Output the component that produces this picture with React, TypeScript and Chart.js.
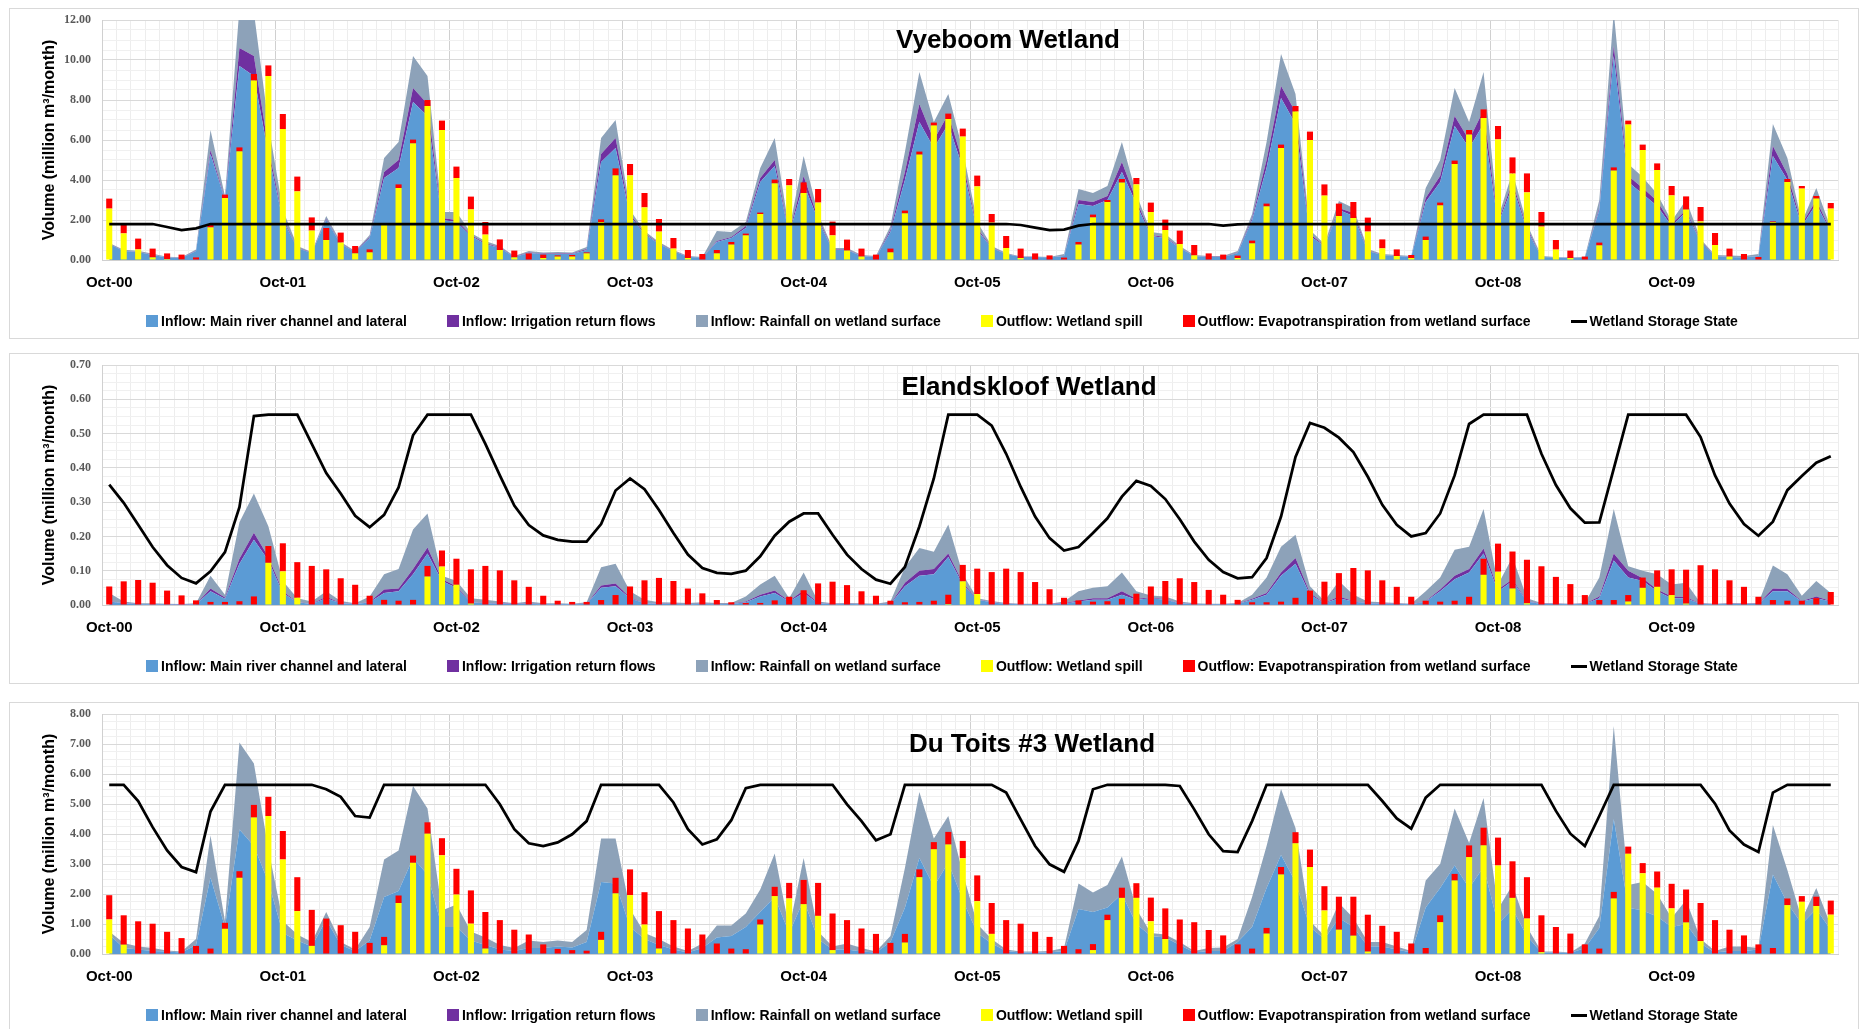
import React, { useEffect, useRef } from 'react';
import { Chart, registerables } from 'chart.js';

Chart.register(...registerables);

// ---------- categories / tick labels ----------
const MONTHS = ['Oct', 'Nov', 'Dec', 'Jan', 'Feb', 'Mar', 'Apr', 'May', 'Jun', 'Jul', 'Aug', 'Sep'];
const HYDRO_YEARS = 10; // Oct-00 .. Sep-10
const categories: string[] = [];
for (let y = 0; y < HYDRO_YEARS; y++) {
  MONTHS.forEach((m, k) => {
    const yr = k < 3 ? y : y + 1;
    categories.push(`${m}-${String(yr).padStart(2, '0')}`);
  });
}

const SERIES_LABELS = [
  'Inflow: Main river channel and lateral',
  'Inflow: Irrigation return flows',
  'Inflow: Rainfall on wetland surface',
  'Outflow: Wetland spill',
  'Outflow: Evapotranspiration from wetland surface',
  'Wetland Storage State',
];
const Y_TITLE = 'Volume (million m³/month)';

// ---------- Vyeboom Wetland ----------
const vyMain = [
  0.8, 0.45, 0.4, 0.25, 0.12, 0.1, 0.45, 5.3, 3.0, 9.7, 9.2, 5.3,
  2.0, 0.6, 0.35, 2.0, 0.8, 0.4, 1.1, 4.1, 4.6, 7.9, 7.2, 2.0,
  1.9, 1.2, 0.8, 0.6, 0.15, 0.35, 0.3, 0.3, 0.3, 0.5, 4.9, 5.6,
  2.2, 1.3, 0.8, 0.45, 0.15, 0.12, 0.9, 1.1, 1.6, 3.9, 4.7, 1.3,
  3.8, 2.0, 0.5, 0.5, 0.2, 0.15, 1.4, 4.0, 6.9, 5.6, 6.8, 4.6,
  1.5, 0.6, 0.3, 0.15, 0.15, 0.12, 0.2, 2.8, 2.7, 3.0, 4.4, 2.8,
  1.2, 1.1, 0.6, 0.2, 0.15, 0.15, 0.35, 2.0, 4.6, 8.1, 6.8, 1.2,
  0.7, 2.5, 2.2, 0.45, 0.25, 0.2, 0.15, 2.9, 3.9, 6.7, 5.6, 6.8,
  1.8, 3.7, 1.5, 0.15, 0.12, 0.1, 0.12, 2.5, 10.2, 3.9, 3.3, 2.7,
  1.7, 2.4, 0.9, 0.2, 0.15, 0.12, 0.2, 5.2, 4.0, 1.7, 2.8, 1.4,
];
const vyIrrigation = [
  0.02, 0.01, 0.01, 0.01, 0.01, 0.01, 0.02, 0.2, 0.05, 0.9, 1.0, 0.3,
  0.1, 0.02, 0.02, 0.05, 0.02, 0.02, 0.05, 0.3, 0.4, 0.7, 0.6, 0.1,
  0.1, 0.05, 0.05, 0.02, 0.02, 0.02, 0.02, 0.02, 0.02, 0.05, 0.4, 0.5,
  0.1, 0.05, 0.02, 0.02, 0.01, 0.01, 0.05, 0.05, 0.1, 0.2, 0.3, 0.05,
  0.4, 0.1, 0.02, 0.02, 0.01, 0.01, 0.1, 0.4, 0.9, 0.4, 0.5, 0.3,
  0.1, 0.02, 0.01, 0.01, 0.01, 0.01, 0.01, 0.2, 0.2, 0.2, 0.5, 0.2,
  0.05, 0.05, 0.02, 0.01, 0.01, 0.01, 0.02, 0.1, 0.4, 0.6, 0.6, 0.1,
  0.02, 0.1, 0.15, 0.02, 0.01, 0.01, 0.01, 0.2, 0.3, 0.5, 0.4, 0.7,
  0.1, 0.2, 0.1, 0.01, 0.01, 0.01, 0.01, 0.1, 0.5, 0.3, 0.3, 0.25,
  0.1, 0.1, 0.05, 0.01, 0.01, 0.01, 0.01, 0.5, 0.3, 0.1, 0.2, 0.05,
];
const vyRainfall = [
  0.03, 0.05, 0.05, 0.05, 0.03, 0.03, 0.05, 1.0, 0.15, 2.0, 2.2, 1.2,
  0.4, 0.08, 0.03, 0.15, 0.08, 0.03, 0.1, 0.7, 0.9, 1.6, 1.4, 0.3,
  0.4, 0.1, 0.1, 0.08, 0.03, 0.08, 0.06, 0.08, 0.06, 0.1, 0.8, 0.9,
  0.2, 0.1, 0.08, 0.03, 0.04, 0.02, 0.5, 0.25, 0.2, 0.5, 1.1, 0.15,
  1.0, 0.2, 0.08, 0.08, 0.04, 0.04, 0.2, 1.0, 1.6, 0.9, 1.0, 0.6,
  0.3, 0.08, 0.04, 0.02, 0.02, 0.02, 0.09, 0.55, 0.45, 0.5, 1.0, 0.3,
  0.15, 0.15, 0.08, 0.04, 0.04, 0.04, 0.08, 0.2, 0.9, 1.6, 0.9, 0.2,
  0.08, 0.35, 0.25, 0.08, 0.04, 0.04, 0.04, 0.5, 0.8, 1.4, 0.9, 1.9,
  0.2, 0.5, 0.2, 0.04, 0.02, 0.02, 0.03, 0.4, 1.7, 0.6, 0.55, 0.35,
  0.15, 0.5, 0.1, 0.04, 0.06, 0.07, 0.09, 1.1, 0.8, 0.1, 0.6, 0.15,
];
const vySpill = [
  2.57, 1.33, 0.53, 0.13, 0.05, 0.03, 0, 1.63, 3.1, 5.43, 8.97, 9.2,
  6.55, 3.43, 1.47, 1.0, 0.87, 0.33, 0.38, 1.75, 3.6, 5.83, 7.7, 6.5,
  4.1, 2.53, 1.27, 0.5, 0.13, 0, 0.1, 0.17, 0.17, 0.33, 1.9, 4.23,
  4.23, 2.63, 1.42, 0.57, 0.1, 0, 0.33, 0.77, 1.23, 2.3, 3.83, 3.73,
  3.35, 2.87, 1.23, 0.47, 0.17, 0, 0.38, 2.33, 5.27, 6.72, 7.05, 6.17,
  3.68, 1.87, 0.6, 0.1, 0, 0, 0, 0.77, 2.13, 2.9, 3.87, 3.78,
  2.4, 1.5, 0.8, 0.23, 0, 0, 0.1, 0.83, 2.68, 5.6, 7.42, 6.0,
  3.22, 2.2, 2.1, 1.42, 0.58, 0.2, 0.1, 1.0, 2.73, 4.8, 6.27, 7.1,
  6.03, 4.32, 3.38, 1.67, 0.52, 0.1, 0, 0.73, 4.47, 6.77, 5.5, 4.5,
  3.23, 2.52, 1.93, 0.75, 0.17, 0, 0, 1.9, 3.9, 3.57, 3.07, 2.57,
];
const vyEvap = [
  0.5, 0.44, 0.54, 0.44, 0.28, 0.24, 0.13, 0.14, 0.17, 0.2, 0.33, 0.53,
  0.75, 0.74, 0.66, 0.6, 0.5, 0.37, 0.15, 0.08, 0.18, 0.19, 0.3, 0.47,
  0.57, 0.64, 0.63, 0.53, 0.34, 0.33, 0.17, 0.06, 0.08, 0.05, 0.13, 0.35,
  0.57, 0.72, 0.63, 0.53, 0.4, 0.3, 0.17, 0.13, 0.09, 0.07, 0.19, 0.32,
  0.53, 0.68, 0.69, 0.55, 0.4, 0.27, 0.19, 0.14, 0.15, 0.15, 0.27, 0.4,
  0.54, 0.43, 0.6, 0.47, 0.33, 0.23, 0.12, 0.13, 0.14, 0.1, 0.18, 0.32,
  0.47, 0.52, 0.67, 0.52, 0.33, 0.27, 0.12, 0.14, 0.14, 0.17, 0.28, 0.42,
  0.56, 0.62, 0.8, 0.7, 0.45, 0.33, 0.15, 0.17, 0.14, 0.17, 0.23, 0.43,
  0.67, 0.81, 0.95, 0.73, 0.48, 0.37, 0.17, 0.14, 0.16, 0.2, 0.27, 0.33,
  0.47, 0.66, 0.72, 0.6, 0.4, 0.3, 0.15, 0.03, 0.15, 0.13, 0.13, 0.28,
];
const vyStorage = [
  1.8, 1.8, 1.8, 1.8, 1.65, 1.5, 1.58, 1.8, 1.8, 1.8, 1.8, 1.8,
  1.8, 1.8, 1.8, 1.8, 1.8, 1.8, 1.8, 1.8, 1.8, 1.8, 1.8, 1.8,
  1.8, 1.8, 1.8, 1.8, 1.8, 1.8, 1.8, 1.8, 1.8, 1.8, 1.8, 1.8,
  1.8, 1.8, 1.8, 1.8, 1.8, 1.8, 1.8, 1.8, 1.8, 1.8, 1.8, 1.8,
  1.8, 1.8, 1.8, 1.8, 1.8, 1.8, 1.8, 1.8, 1.8, 1.8, 1.8, 1.8,
  1.8, 1.8, 1.8, 1.75, 1.62, 1.5, 1.52, 1.72, 1.8, 1.8, 1.8, 1.8,
  1.8, 1.8, 1.8, 1.8, 1.8, 1.72, 1.78, 1.8, 1.8, 1.8, 1.8, 1.8,
  1.8, 1.8, 1.8, 1.8, 1.8, 1.8, 1.8, 1.8, 1.8, 1.8, 1.8, 1.8,
  1.8, 1.8, 1.8, 1.8, 1.8, 1.8, 1.8, 1.8, 1.8, 1.8, 1.8, 1.8,
  1.8, 1.8, 1.8, 1.8, 1.8, 1.8, 1.8, 1.8, 1.8, 1.8, 1.8, 1.8,
];

// ---------- Elandskloof Wetland ----------
const elMain = [
  0.01, 0.005, 0.002, 0.002, 0.002, 0.001, 0.002, 0.04, 0.018, 0.12, 0.19, 0.13,
  0.035, 0.008, 0.003, 0.02, 0.005, 0.002, 0.008, 0.035, 0.04, 0.09, 0.15, 0.07,
  0.05, 0.008, 0.005, 0.004, 0.003, 0.003, 0.002, 0.002, 0.002, 0.003, 0.05, 0.055,
  0.02, 0.005, 0.003, 0.003, 0.002, 0.003, 0.002, 0.003, 0.008, 0.025, 0.035, 0.01,
  0.035, 0.005, 0.002, 0.003, 0.002, 0.002, 0.003, 0.055, 0.085, 0.09, 0.14, 0.06,
  0.015, 0.008, 0.003, 0.002, 0.002, 0.002, 0.004, 0.01, 0.015, 0.015, 0.03, 0.015,
  0.02, 0.015, 0.005, 0.002, 0.002, 0.002, 0.003, 0.015, 0.03, 0.085, 0.12, 0.03,
  0.005, 0.02, 0.01, 0.005, 0.004, 0.003, 0.002, 0.01, 0.04, 0.075, 0.095, 0.15,
  0.04, 0.07, 0.01, 0.003, 0.003, 0.002, 0.003, 0.02, 0.13, 0.08, 0.07, 0.04,
  0.02, 0.02, 0.003, 0.002, 0.003, 0.003, 0.003, 0.04, 0.04, 0.01, 0.02, 0.01,
];
const elIrrigation = [
  0.001, 0.001, 0.001, 0.001, 0.001, 0.001, 0.001, 0.008, 0.004, 0.015, 0.021, 0.01,
  0.005, 0.001, 0.001, 0.004, 0.001, 0.001, 0.001, 0.01, 0.008, 0.015, 0.018, 0.005,
  0.005, 0.001, 0.001, 0.001, 0.001, 0.001, 0.001, 0.001, 0.001, 0.001, 0.007, 0.008,
  0.002, 0.001, 0.001, 0.001, 0.001, 0.001, 0.001, 0.001, 0.002, 0.005, 0.007, 0.002,
  0.008, 0.001, 0.001, 0.001, 0.001, 0.001, 0.001, 0.01, 0.015, 0.015, 0.01, 0.005,
  0.002, 0.001, 0.001, 0.001, 0.001, 0.001, 0.001, 0.003, 0.005, 0.005, 0.01, 0.003,
  0.002, 0.002, 0.001, 0.001, 0.001, 0.001, 0.001, 0.003, 0.005, 0.01, 0.017, 0.005,
  0.001, 0.005, 0.002, 0.001, 0.001, 0.001, 0.001, 0.002, 0.005, 0.01, 0.01, 0.015,
  0.005, 0.005, 0.002, 0.001, 0.001, 0.001, 0.001, 0.005, 0.02, 0.02, 0.008, 0.005,
  0.005, 0.003, 0.001, 0.001, 0.001, 0.001, 0.001, 0.008, 0.007, 0.002, 0.005, 0.002,
];
const elRainfall = [
  0.024, 0.004, 0.002, 0.002, 0.001, 0.001, 0.002, 0.037, 0.008, 0.106, 0.114, 0.09,
  0.03, 0.011, 0.006, 0.016, 0.006, 0.002, 0.016, 0.045, 0.057, 0.115, 0.099, 0.01,
  0.015, 0.011, 0.009, 0.005, 0.001, 0.006, 0.002, 0.002, 0.001, 0.004, 0.053, 0.057,
  0.018, 0.009, 0.004, 0.003, 0.003, 0.004, 0.003, 0.002, 0.015, 0.03, 0.043, 0.008,
  0.052, 0.004, 0.002, 0.002, 0.002, 0.001, 0.006, 0.045, 0.066, 0.05, 0.085, 0.025,
  0.003, 0.003, 0.002, 0.001, 0.001, 0.001, 0.005, 0.027, 0.03, 0.035, 0.055, 0.022,
  0.006, 0.008, 0.004, 0.002, 0.001, 0.001, 0.002, 0.012, 0.045, 0.075, 0.068, 0.02,
  0.006, 0.045, 0.018, 0.004, 0.003, 0.002, 0.001, 0.028, 0.035, 0.076, 0.065, 0.115,
  0.015, 0.065, 0.008, 0.002, 0.001, 0.001, 0.002, 0.055, 0.13, 0.013, 0.022, 0.045,
  0.035, 0.042, 0.002, 0.001, 0.002, 0.001, 0.002, 0.067, 0.043, 0.015, 0.045, 0.023,
];
const elSpill = [
  0, 0, 0, 0, 0, 0, 0, 0, 0, 0, 0, 0.123,
  0.098, 0.021, 0, 0, 0, 0, 0, 0, 0, 0, 0.083, 0.112,
  0.059, 0.004, 0, 0, 0, 0, 0, 0, 0, 0, 0, 0,
  0, 0, 0, 0, 0, 0, 0, 0, 0, 0, 0, 0,
  0, 0, 0, 0, 0, 0, 0, 0, 0, 0, 0.003, 0.069,
  0.032, 0, 0, 0, 0, 0, 0, 0, 0, 0, 0, 0,
  0, 0, 0, 0, 0, 0, 0, 0, 0, 0, 0, 0,
  0, 0, 0, 0, 0, 0, 0, 0, 0, 0, 0, 0.088,
  0.097, 0.048, 0.005, 0, 0, 0, 0, 0, 0, 0.01, 0.05, 0.053,
  0.029, 0.004, 0, 0, 0, 0, 0, 0, 0, 0, 0, 0,
];
const elEvap = [
  0.054, 0.069, 0.073, 0.065, 0.042, 0.028, 0.0135, 0.009, 0.009, 0.011, 0.025, 0.049,
  0.082, 0.104, 0.114, 0.104, 0.078, 0.059, 0.027, 0.015, 0.0125, 0.015, 0.031, 0.047,
  0.076, 0.1, 0.114, 0.101, 0.072, 0.053, 0.027, 0.0125, 0.009, 0.009, 0.0145, 0.029,
  0.054, 0.072, 0.079, 0.07, 0.048, 0.034, 0.0145, 0.008, 0.006, 0.006, 0.0135, 0.024,
  0.043, 0.063, 0.068, 0.058, 0.04, 0.027, 0.0125, 0.008, 0.009, 0.0125, 0.027, 0.048,
  0.074, 0.096, 0.106, 0.096, 0.067, 0.046, 0.021, 0.0135, 0.0097, 0.011, 0.018, 0.033,
  0.054, 0.07, 0.078, 0.067, 0.044, 0.03, 0.015, 0.008, 0.008, 0.0097, 0.021, 0.042,
  0.068, 0.093, 0.108, 0.101, 0.072, 0.053, 0.024, 0.0125, 0.0097, 0.0125, 0.024, 0.047,
  0.082, 0.108, 0.127, 0.113, 0.082, 0.061, 0.029, 0.0145, 0.0145, 0.019, 0.03, 0.048,
  0.075, 0.099, 0.116, 0.104, 0.072, 0.053, 0.024, 0.0145, 0.0125, 0.0125, 0.02, 0.038,
];
const elStorage = [
  0.351, 0.298, 0.234, 0.169, 0.116, 0.079, 0.063, 0.098, 0.154, 0.285, 0.551, 0.555,
  0.555, 0.555, 0.47, 0.385, 0.325, 0.26, 0.227, 0.263, 0.343, 0.495, 0.555, 0.555,
  0.555, 0.555, 0.47, 0.378, 0.29, 0.233, 0.203, 0.19, 0.185, 0.185, 0.236, 0.334,
  0.369, 0.338, 0.277, 0.21, 0.147, 0.108, 0.094, 0.091, 0.1, 0.142, 0.202, 0.243,
  0.267, 0.267, 0.205, 0.147, 0.105, 0.074, 0.062, 0.111, 0.229, 0.369, 0.555, 0.555,
  0.555, 0.523, 0.441, 0.345, 0.258, 0.195, 0.159, 0.169, 0.21, 0.253, 0.316, 0.362,
  0.347, 0.309, 0.25, 0.185, 0.132, 0.096, 0.078, 0.081, 0.137, 0.258, 0.432, 0.531,
  0.517, 0.488, 0.446, 0.374, 0.292, 0.234, 0.2, 0.21, 0.267, 0.378, 0.528, 0.555,
  0.555, 0.555, 0.555, 0.441, 0.35, 0.282, 0.24, 0.241, 0.398, 0.555, 0.555, 0.555,
  0.555, 0.555, 0.49, 0.378, 0.296, 0.236, 0.202, 0.243, 0.335, 0.376, 0.415, 0.434,
];

// ---------- Du Toits #3 Wetland ----------
const dtMain = [
  0.65, 0.2, 0.15, 0.1, 0.08, 0.05, 0.3, 2.55, 0.9, 4.15, 3.6, 2.4,
  0.7, 0.45, 0.25, 1.15, 0.3, 0.1, 0.45, 1.9, 2.1, 3.2, 2.65, 0.9,
  0.9, 0.45, 0.3, 0.15, 0.1, 0.2, 0.2, 0.25, 0.22, 0.4, 2.4, 2.35,
  0.9, 0.5, 0.3, 0.15, 0.05, 0.2, 0.55, 0.6, 0.9, 1.4, 1.9, 0.7,
  1.8, 0.5, 0.15, 0.15, 0.08, 0.05, 0.4, 1.54, 3.2, 2.25, 3.05, 1.8,
  0.7, 0.35, 0.1, 0.05, 0.05, 0.05, 0.1, 1.5, 1.4, 1.55, 2.0, 1.0,
  0.6, 0.55, 0.3, 0.05, 0.1, 0.1, 0.4, 0.9, 2.2, 3.3, 2.4, 0.9,
  0.5, 1.2, 0.9, 0.25, 0.25, 0.15, 0.05, 1.55, 2.2, 2.95, 2.2, 2.9,
  1.0, 1.5, 0.6, 0.05, 0.05, 0.03, 0.2, 0.87, 4.5, 1.54, 1.45, 1.25,
  0.9, 1.0, 0.35, 0.05, 0.1, 0.1, 0.15, 2.65, 1.7, 1.0, 1.5, 0.8,
];
const dtIrrigation = [
  0, 0, 0, 0, 0, 0, 0, 0, 0, 0, 0, 0,
  0, 0, 0, 0, 0, 0, 0, 0, 0, 0, 0, 0,
  0, 0, 0, 0, 0, 0, 0, 0, 0, 0, 0, 0,
  0, 0, 0, 0, 0, 0, 0, 0, 0, 0, 0, 0,
  0, 0, 0, 0, 0, 0, 0, 0, 0, 0, 0, 0,
  0, 0, 0, 0, 0, 0, 0, 0, 0, 0, 0, 0,
  0, 0, 0, 0, 0, 0, 0, 0, 0, 0, 0, 0,
  0, 0, 0, 0, 0, 0, 0, 0, 0, 0, 0, 0,
  0, 0, 0, 0, 0, 0, 0, 0, 0, 0, 0, 0,
  0, 0, 0, 0, 0, 0, 0, 0, 0, 0, 0, 0,
];
const dtRainfall = [
  0.1, 0.17, 0.1, 0.1, 0.04, 0.03, 0.2, 1.4, 0.2, 2.9, 2.75, 1.1,
  0.4, 0.2, 0.15, 0.25, 0.1, 0.05, 0.45, 1.25, 1.35, 2.4, 2.2, 0.55,
  0.75, 0.3, 0.25, 0.15, 0.1, 0.25, 0.2, 0.2, 0.18, 0.4, 1.45, 1.5,
  0.6, 0.2, 0.2, 0.1, 0.05, 0.15, 0.4, 0.35, 0.45, 0.75, 1.45, 0.15,
  1.4, 0.25, 0.1, 0.2, 0.12, 0.03, 0.2, 1.33, 2.2, 1.6, 1.55, 0.9,
  0.3, 0.15, 0.05, 0.03, 0.03, 0.05, 0.1, 0.85, 0.65, 0.75, 1.25, 0.5,
  0.1, 0.1, 0.1, 0.05, 0.1, 0.12, 0.1, 1.0, 1.4, 2.2, 1.8, 0.2,
  0.1, 0.5, 0.3, 0.15, 0.15, 0.1, 0.05, 0.9, 0.8, 1.9, 1.5, 2.3,
  0.5, 0.8, 0.3, 0.03, 0.03, 0.02, 0.15, 0.4, 3.1, 0.76, 0.95, 0.75,
  0.3, 0.8, 0.15, 0.05, 0.15, 0.15, 0.05, 1.65, 1.1, 0.15, 0.7, 0.15,
];
const dtSpill = [
  1.15, 0.31, 0, 0, 0, 0, 0, 0, 0.84, 2.54, 4.55, 4.6,
  3.15, 1.43, 0.27, 0, 0, 0, 0, 0.29, 1.7, 3.04, 4.01, 3.29,
  1.98, 1.01, 0.18, 0, 0, 0, 0, 0, 0, 0, 0.47, 2.02,
  1.96, 0.98, 0.18, 0, 0, 0, 0, 0, 0, 0.98, 1.93, 1.85,
  1.66, 1.27, 0.13, 0, 0, 0, 0, 0.38, 2.56, 3.49, 3.65, 3.19,
  1.76, 0.67, 0, 0, 0, 0, 0, 0, 0.13, 1.13, 1.87, 1.87,
  1.09, 0.5, 0, 0, 0, 0, 0, 0, 0.68, 2.65, 3.69, 2.9,
  1.45, 0.81, 0.61, 0.08, 0, 0, 0, 0, 1.06, 2.45, 3.23, 3.62,
  2.95, 1.87, 1.18, 0.06, 0, 0, 0, 0, 1.85, 3.34, 2.69, 2.21,
  1.52, 1.05, 0.43, 0, 0, 0, 0, 0, 1.63, 1.74, 1.6, 1.31,
];
const dtEvap = [
  0.81, 0.98, 1.09, 1.01, 0.74, 0.53, 0.27, 0.18, 0.2, 0.22, 0.42, 0.64,
  0.95, 1.13, 1.2, 1.18, 0.96, 0.74, 0.37, 0.28, 0.25, 0.24, 0.38, 0.57,
  0.86, 1.11, 1.22, 1.13, 0.81, 0.65, 0.32, 0.17, 0.13, 0.11, 0.27, 0.52,
  0.86, 1.08, 1.25, 1.13, 0.85, 0.65, 0.35, 0.18, 0.16, 0.17, 0.31, 0.52,
  0.81, 1.1, 1.22, 1.13, 0.85, 0.67, 0.37, 0.29, 0.26, 0.24, 0.42, 0.58,
  0.86, 1.03, 1.13, 1.01, 0.74, 0.57, 0.27, 0.16, 0.2, 0.18, 0.34, 0.49,
  0.79, 1.02, 1.15, 1.06, 0.8, 0.62, 0.32, 0.18, 0.19, 0.25, 0.37, 0.58,
  0.81, 1.1, 1.3, 1.23, 0.94, 0.74, 0.35, 0.2, 0.23, 0.22, 0.39, 0.59,
  0.93, 1.22, 1.38, 1.23, 0.9, 0.68, 0.32, 0.18, 0.22, 0.24, 0.34, 0.54,
  0.82, 1.1, 1.27, 1.13, 0.81, 0.62, 0.32, 0.2, 0.22, 0.19, 0.31, 0.47,
];
const dtStorage = [
  5.64, 5.64, 5.1, 4.23, 3.45, 2.9, 2.73, 4.75, 5.64, 5.64, 5.64, 5.64,
  5.64, 5.64, 5.64, 5.49, 5.24, 4.6, 4.55, 5.64, 5.64, 5.64, 5.64, 5.64,
  5.64, 5.64, 5.64, 4.99, 4.16, 3.69, 3.6, 3.72, 3.99, 4.43, 5.64, 5.64,
  5.64, 5.64, 5.64, 5.05, 4.16, 3.65, 3.82, 4.46, 5.53, 5.64, 5.64, 5.64,
  5.64, 5.64, 5.64, 4.99, 4.43, 3.79, 3.99, 5.64, 5.64, 5.64, 5.64, 5.64,
  5.64, 5.64, 5.38, 4.49, 3.6, 2.99, 2.74, 3.77, 5.49, 5.64, 5.64, 5.64,
  5.64, 5.64, 5.6, 4.82, 3.99, 3.43, 3.4, 4.43, 5.64, 5.64, 5.64, 5.64,
  5.64, 5.64, 5.64, 5.64, 5.1, 4.52, 4.18, 5.21, 5.64, 5.64, 5.64, 5.64,
  5.64, 5.64, 5.64, 5.64, 4.77, 4.01, 3.6, 4.6, 5.64, 5.64, 5.64, 5.64,
  5.64, 5.64, 5.64, 5.01, 4.12, 3.65, 3.4, 5.38, 5.64, 5.64, 5.64, 5.64,
];

// ---------- styling ----------
const BLUE = '#5B9BD5';
const PURPLE = '#7030A0';
const GRAY = '#8DA2B9';
const YELLOW = '#FFFF00';
const RED = '#FF0000';
const SERIES_COLORS = [BLUE, PURPLE, GRAY, YELLOW, RED, '#000000'];
const SANS = "'Liberation Sans', Arial, sans-serif";
const SERIF = "'Liberation Serif', 'Times New Roman', serif";
const CANVAS_W = 1848;
const CANVAS_H = 329;

const PANELS = [
  {
    title: 'Vyeboom Wetland', titleX: 998, titleY: 32, top: 8,
    main: vyMain, irr: vyIrrigation, rain: vyRainfall, spill: vySpill, et: vyEvap, storage: vyStorage,
    yMax: 12, yMajor: 2, yMinor: 0.5,
  },
  {
    title: 'Elandskloof Wetland', titleX: 1019, titleY: 33.5, top: 353,
    main: elMain, irr: elIrrigation, rain: elRainfall, spill: elSpill, et: elEvap, storage: elStorage,
    yMax: 0.7, yMajor: 0.1, yMinor: 0.025,
  },
  {
    title: 'Du Toits #3 Wetland', titleX: 1022, titleY: 41.5, top: 702,
    main: dtMain, irr: dtIrrigation, rain: dtRainfall, spill: dtSpill, et: dtEvap, storage: dtStorage,
    yMax: 8, yMajor: 1, yMinor: 0.25,
  },
];

const titlePlugin = {
  id: 'panelTitle',
  afterDatasetsDraw(chart: any, _args: any, opts: any) {
    const { ctx } = chart;
    ctx.save();
    ctx.font = `bold 26px ${SANS}`;
    ctx.fillStyle = '#000';
    ctx.textAlign = 'center';
    ctx.textBaseline = 'middle';
    ctx.fillText(opts.text, opts.x, opts.y);
    ctx.restore();
  },
};

function buildConfig(p: any): any {
  const isMajor = (v: number) => Math.abs(v / p.yMajor - Math.round(v / p.yMajor)) < 1e-6;
  const area = (label: string, data: number[], color: string, fill: any) => ({
    type: 'line', label, data, backgroundColor: color, borderColor: color, borderWidth: 0,
    fill, pointRadius: 0, pointHoverRadius: 0, tension: 0, stack: 'in', order: 3,
  });
  const bar = (label: string, data: number[], color: string) => ({
    type: 'bar', label, data, backgroundColor: color, borderWidth: 0, stack: 'out', order: 2,
    barPercentage: 0.42, categoryPercentage: 1,
  });
  return {
    type: 'bar',
    data: {
      labels: categories,
      datasets: [
        area(SERIES_LABELS[0], p.main, BLUE, 'origin'),
        area(SERIES_LABELS[1], p.irr, PURPLE, '-1'),
        area(SERIES_LABELS[2], p.rain, GRAY, '-1'),
        bar(SERIES_LABELS[3], p.spill, YELLOW),
        bar(SERIES_LABELS[4], p.et, RED),
        {
          type: 'line', label: SERIES_LABELS[5], data: p.storage, borderColor: '#000', backgroundColor: '#000',
          borderWidth: 2.75, fill: false, pointRadius: 0, pointHoverRadius: 0, tension: 0, stack: 'storage', order: 1,
        },
      ],
    },
    options: {
      responsive: false,
      animation: false,
      events: [],
      layout: { padding: { top: 11, left: 30, right: 20, bottom: 33 } },
      plugins: {
        tooltip: { enabled: false },
        title: { display: false },
        legend: { display: false },
        panelTitle: { text: p.title, x: p.titleX, y: p.titleY },
      },
      scales: {
        x: {
          type: 'category',
          stacked: true,
          offset: true,
          grid: {
            offset: true,
            drawTicks: false,
            color: (c: any) => (c.index % 12 === 0 ? '#D0D0D0' : '#EDEDED'),
          },
          border: { display: true, color: '#D0D0D0' },
          ticks: {
            autoSkip: false,
            maxRotation: 0,
            minRotation: 0,
            padding: 14,
            color: '#000',
            font: { family: SANS, size: 15, weight: 'bold' },
            callback: (_v: any, i: number) => (i % 12 === 0 ? categories[i] : ''),
          },
          afterFit: (s: any) => { s.height = 45; },
        },
        y: {
          stacked: true,
          min: 0,
          max: p.yMax,
          grid: {
            drawTicks: false,
            color: (c: any) => (c.tick && isMajor(c.tick.value) ? '#D9D9D9' : '#F0F0F0'),
          },
          border: { display: true, color: '#D0D0D0' },
          ticks: {
            stepSize: p.yMinor,
            autoSkip: false,
            padding: 11,
            color: '#595959',
            font: { family: SERIF, size: 12, weight: 'bold' },
            callback: (v: any) => (isMajor(Number(v)) ? Number(v).toFixed(2) : ''),
          },
          title: {
            display: true,
            text: Y_TITLE,
            color: '#000',
            font: { family: SANS, size: 16, weight: 'bold' },
            padding: { top: 0, bottom: 0 },
          },
          afterFit: (s: any) => {
            s.width = 62;
            s.paddingTop = 6;
            s.paddingBottom = 6;
          },
        },
      },
    },
    plugins: [titlePlugin],
  };
}

function Legend() {
  return (
    <div
      style={{
        position: 'absolute', left: 0, top: 303, width: CANVAS_W, height: 18, paddingLeft: 16,
        boxSizing: 'border-box', display: 'flex', justifyContent: 'center', alignItems: 'center', gap: 40,
        fontFamily: SANS, fontWeight: 'bold', fontSize: 14, color: '#000', whiteSpace: 'nowrap', lineHeight: '18px',
      }}
    >
      {SERIES_LABELS.map((label, i) => (
        <div key={label} style={{ display: 'flex', alignItems: 'center' }}>
          {i === 5 ? (
            <span style={{ display: 'inline-block', width: 16, height: 3, background: SERIES_COLORS[i], marginRight: 3 }} />
          ) : (
            <span style={{ display: 'inline-block', width: 12, height: 12, background: SERIES_COLORS[i], marginRight: 3 }} />
          )}
          <span>{label}</span>
        </div>
      ))}
    </div>
  );
}

function Panel({ spec }: { spec: any }) {
  const ref = useRef<HTMLCanvasElement | null>(null);
  useEffect(() => {
    if (!ref.current) return;
    const chart = new Chart(ref.current, buildConfig(spec));
    return () => chart.destroy();
  }, [spec]);
  return (
    <div
      style={{
        position: 'absolute', left: 9, top: spec.top, width: CANVAS_W + 2, height: CANVAS_H + 2,
        boxSizing: 'border-box', border: '1px solid #D9D9D9', background: '#fff',
      }}
    >
      <canvas ref={ref} width={CANVAS_W} height={CANVAS_H} style={{ display: 'block' }} />
      <Legend />
    </div>
  );
}

export default function App() {
  return (
    <div style={{ position: 'absolute', left: 0, top: 0, width: 1868, height: 1029, overflow: 'hidden', background: '#fff' }}>
      {PANELS.map((p) => <Panel key={p.title} spec={p} />)}
    </div>
  );
}
